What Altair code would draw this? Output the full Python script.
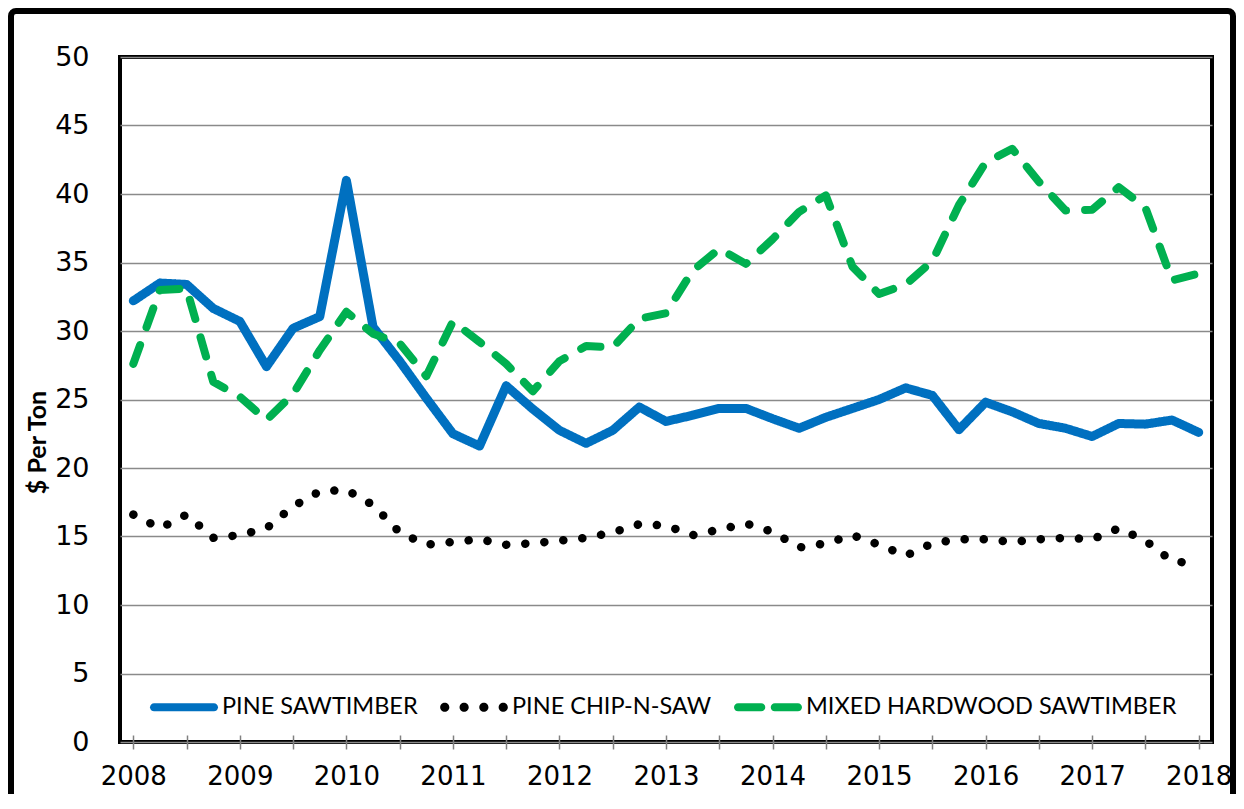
import altair as alt
import pandas as pd

# ---- data (quarterly 2008 Q1 .. 2018 Q1) ----
YEARS = ["2008", "2009", "2010", "2011", "2012", "2013", "2014", "2015", "2016", "2017", "2018"]
SERIES = ["PINE SAWTIMBER", "PINE CHIP-N-SAW", "MIXED HARDWOOD SAWTIMBER"]

PINE_SAWTIMBER = [32.2, 33.5, 33.4, 31.65, 30.7, 27.4, 30.2, 31.05, 41.0, 30.3,
                  27.8, 25.1, 22.5, 21.6, 26.0, 24.3, 22.75, 21.8, 22.75, 24.45,
                  23.4, 23.85, 24.35, 24.35, 23.6, 22.9, 23.7, 24.35, 25.0, 25.85,
                  25.3, 22.8, 24.8, 24.1, 23.25, 22.9, 22.3, 23.25, 23.2, 23.5, 22.6]
PINE_CHIP_N_SAW = [16.6, 15.6, 16.6, 14.9, 15.1, 15.6, 17.2, 18.3, 18.4, 17.3,
                   15.3, 14.4, 14.6, 14.8, 14.4, 14.5, 14.7, 14.9, 15.3, 15.9,
                   15.8, 15.1, 15.5, 15.95, 15.35, 14.2, 14.5, 15.1, 14.4, 13.6,
                   14.5, 14.8, 14.8, 14.6, 14.8, 14.9, 14.8, 15.6, 14.7, 13.2, 13.0]
MIXED_HARDWOOD = [27.6, 33.0, 33.1, 26.3, 25.2, 23.5, 25.4, 28.6, 31.4, 29.8,
                  29.1, 26.7, 30.7, 29.2, 27.6, 25.6, 27.8, 28.9, 28.8, 30.9,
                  31.3, 34.4, 36.0, 34.9, 36.7, 38.7, 39.9, 34.7, 32.7, 33.4,
                  35.1, 39.2, 42.3, 43.3, 40.9, 38.8, 38.85, 40.5, 39.0, 33.7, 34.2]

COLORS = ["#0070C0", "#000000", "#00B050"]
DASHES = [[1, 0], [0.1, 19], [20, 19]]
WIDTHS = [8, 9, 8]


# legend glyphs as SVG paths in the [-1, 1] symbol box
def _pill(x0, x1, h=0.12):
    return ("M%.3f,%.3f L%.3f,%.3f A%.3f,%.3f 0 0 1 %.3f,%.3f L%.3f,%.3f "
            "A%.3f,%.3f 0 0 1 %.3f,%.3f Z" % (x0 + h, -h, x1 - h, -h, h, h, x1 - h, h,
                                                x0 + h, h, h, h, x0 + h, -h))


def _dot(cx, r=0.135):
    return ("M%.3f,0 A%.3f,%.3f 0 1 0 %.3f,0 A%.3f,%.3f 0 1 0 %.3f,0 Z"
            % (cx - r, r, r, cx + r, r, r, cx - r))


LEGEND_SHAPES = [
    _pill(-1.0, 1.0),
    " ".join(_dot(c) for c in (-0.86, -0.29, 0.29, 0.86)),
    _pill(-1.0, -0.08) + " " + _pill(0.08, 1.0),
]

rows = []
for name, vals in zip(SERIES, [PINE_SAWTIMBER, PINE_CHIP_N_SAW, MIXED_HARDWOOD]):
    for i, v in enumerate(vals):
        rows.append({"q": i, "series": name, "price": v})
df = pd.DataFrame(rows)

N = len(PINE_SAWTIMBER)
W, H = 1092, 685

year_js = "[" + ",".join("'%s'" % y for y in YEARS) + "]"
label_expr = "datum.value % 4 == 0 ? " + year_js + "[datum.value / 4] : ''"

x_enc = alt.X(
    "q:Q",
    scale=alt.Scale(domain=[-0.5, N - 0.5], nice=False, zero=False),
    axis=alt.Axis(values=list(range(N)), labelExpr=label_expr, title=None,
                  grid=False, domain=False, ticks=True, tickSize=14,
                  tickColor="#808080", tickWidth=1.5, offset=-7,
                  labelFont="DejaVu Sans", labelFontSize=26, labelColor="black",
                  labelPadding=14, labelFlush=False, labelOverlap=False),
)
y_enc = alt.Y(
    "price:Q",
    scale=alt.Scale(domain=[0, 50], nice=False),
    axis=alt.Axis(values=list(range(0, 51, 5)), title="$ Per Ton",
                  grid=True, gridColor="#8A8A8A", gridWidth=1.3,
                  domain=False, ticks=False, labelPadding=31,
                  labelFont="DejaVu Sans", labelFontSize=27, labelColor="black",
                  titleFont="Lato", titleFontWeight="bold", titleFontSize=25,
                  titleColor="black", titleX=-83, titleY=385, titleAngle=270,
                  titleAlign="center", titleBaseline="middle"),
)

# line styling scales (listed in reverse so they stay separate from the legend scales)
REV = SERIES[::-1]
lines = alt.Chart(df).mark_line(strokeCap="round", strokeJoin="round").encode(
    x=x_enc,
    y=y_enc,
    stroke=alt.Stroke("series:N", scale=alt.Scale(domain=REV, range=COLORS[::-1]), legend=None),
    strokeDash=alt.StrokeDash("series:N", scale=alt.Scale(domain=REV, range=DASHES[::-1]), legend=None),
    strokeWidth=alt.StrokeWidth("series:N", scale=alt.Scale(domain=REV, range=WIDTHS[::-1]), legend=None),
)


def legend_def():
    return alt.Legend(
        orient="none", legendX=30, legendY=616, direction="horizontal", title=None,
        symbolSize=4624, symbolStrokeWidth=0, symbolOpacity=1,
        labelFont="Lato", labelFontSize=23.5, labelColor="black", labelOffset=4,
        columnPadding=22, padding=0, labelLimit=600,
    )


# legend-only layer: zero-size points, the legend carries the line glyphs
legend_layer = alt.Chart(df).mark_point(filled=True, size=0).encode(
    x=alt.X("q:Q"),
    y=alt.Y("price:Q"),
    fill=alt.Fill("series:N", scale=alt.Scale(domain=SERIES, range=COLORS), legend=legend_def()),
    shape=alt.Shape("series:N", scale=alt.Scale(domain=SERIES, range=LEGEND_SHAPES), legend=legend_def()),
)

frame = alt.Chart(pd.DataFrame({"k": [0]})).mark_rect(
    fillOpacity=0, stroke="black", strokeWidth=6, cornerRadius=5, clip=False
).encode(x=alt.value(-109), x2=alt.value(1113), y=alt.value(-46), y2=alt.value(760))

chart = alt.layer(lines, legend_layer, frame).properties(
    width=W, height=H,
    autosize=alt.AutoSizeParams(type="none"),
    padding={"left": 112, "top": 49, "right": 24, "bottom": 52},
    background="white",
).configure_view(stroke="black", strokeWidth=4)

chart.save("out.html", embed_options={"renderer": "svg", "actions": False})
